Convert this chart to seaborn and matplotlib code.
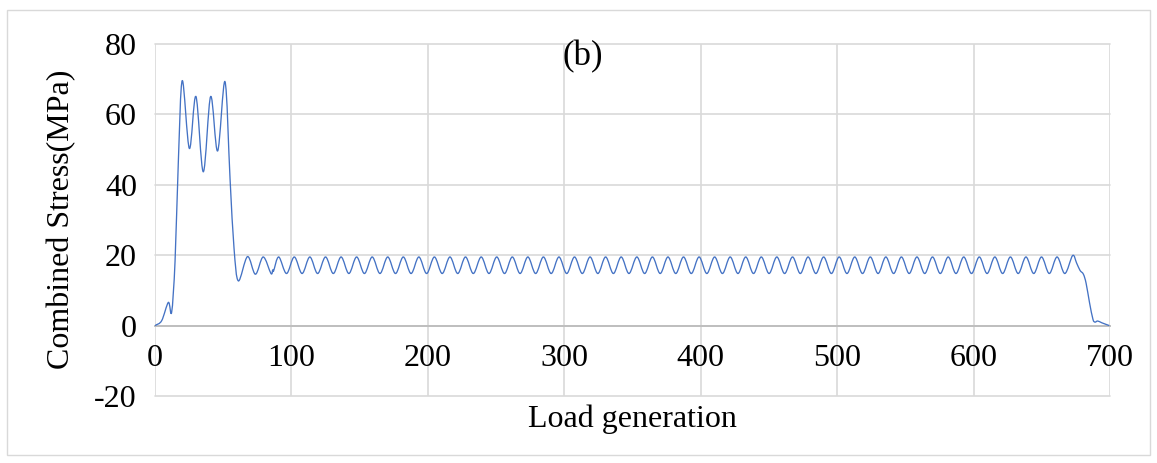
import numpy as np
import seaborn as sns
import matplotlib
matplotlib.use("Agg")
import matplotlib.pyplot as plt
from matplotlib.path import Path
from matplotlib.patches import PathPatch, Rectangle

# ---------------- data ----------------
# start-up transient (load generation, combined stress in MPa)
ramp_x = [0.0, 4.9, 9.8, 12.2, 14.7, 17.1, 20.0, 25.2, 30.0, 35.4, 40.8, 45.9, 51.3, 55.0, 57.9, 61.1]
ramp_y = [0.0, 1.4, 6.6, 3.8, 18.3, 46.5, 69.6, 50.3, 65.1, 43.7, 65.1, 49.6, 69.3, 41.8, 22.1, 12.7]

# steady oscillation: peaks
peak_x = [67.8, 79.3, 90.7, 102.1, 113.5, 125.0, 136.4, 147.8, 159.2, 170.6,
          182.0, 193.4, 204.8, 216.2, 227.6, 239.1, 250.5, 261.9, 273.3, 284.7,
          296.1, 307.5, 318.9, 330.3, 341.7, 353.2, 364.6, 376.0, 387.4, 398.8,
          410.2, 421.6, 433.0, 444.4, 455.8, 467.3, 478.7, 490.1, 501.5, 512.9,
          524.3, 535.7, 547.1, 558.5, 569.9, 581.4, 592.8, 604.2, 615.6, 627.0,
          638.4, 649.8, 661.2, 672.6]
peak_y = [19.6, 19.5, 19.5, 19.5, 19.5, 19.5, 19.5, 19.5, 19.5, 19.5,
          19.5, 19.5, 19.5, 19.5, 19.5, 19.5, 19.5, 19.5, 19.5, 19.5,
          19.5, 19.5, 19.5, 19.5, 19.5, 19.5, 19.5, 19.5, 19.5, 19.5,
          19.5, 19.5, 19.5, 19.5, 19.5, 19.5, 19.5, 19.5, 19.5, 19.5,
          19.5, 19.5, 19.5, 19.5, 19.5, 19.5, 19.5, 19.5, 19.5, 19.5,
          19.5, 19.5, 19.5, 19.9]
# steady oscillation: valleys
valley_x = [73.6, 85.0, 96.4, 107.8, 119.2, 130.7, 142.1, 153.5, 164.9, 176.3,
            187.7, 199.1, 210.5, 221.9, 233.3, 244.8, 256.2, 267.6, 279.0, 290.4,
            301.8, 313.2, 324.6, 336.0, 347.4, 358.9, 370.3, 381.7, 393.1, 404.5,
            415.9, 427.3, 438.7, 450.1, 461.5, 473.0, 484.4, 495.8, 507.2, 518.6,
            530.0, 541.4, 552.8, 564.2, 575.6, 587.1, 598.5, 609.9, 621.3, 632.7,
            644.1, 655.5, 666.9]
valley_y = [14.6, 14.8, 14.8, 14.8, 14.8, 14.8, 14.8, 14.8, 14.8, 14.8,
            14.8, 14.8, 14.8, 14.8, 14.8, 14.8, 14.8, 14.8, 14.8, 14.8,
            14.8, 14.8, 14.8, 14.8, 14.8, 14.8, 14.8, 14.8, 14.8, 14.8,
            14.8, 14.8, 14.8, 14.8, 14.8, 14.8, 14.8, 14.8, 14.8, 14.8,
            14.8, 14.8, 14.8, 14.8, 14.8, 14.8, 14.8, 14.8, 14.8, 14.8,
            14.8, 14.8, 14.8]
# small glitch right after the valley near 85
notch_x = [86.3, 86.9]
notch_y = [15.9, 15.5]

# shut-down tail
tail_x = [675.5, 678.0, 680.5, 682.5, 685.0, 687.5, 689.0, 691.0, 694.0, 699.5]
tail_y = [17.8, 15.7, 14.6, 12.0, 6.5, 1.8, 1.0, 1.3, 0.8, 0.0]

x_ticks = [0, 100, 200, 300, 400, 500, 600, 700]
y_ticks = [-20, 0, 20, 40, 60, 80]
y_tick_labels = ["-20", "0", "20", "40", "60", "80"]
panel_label = "(b)"
x_title = "Load generation"
y_title = "Combined Stress(MPa)"

# ---------------- assemble series in order ----------------
xs, ys = list(ramp_x), list(ramp_y)
for k in range(len(peak_x)):
    xs.append(peak_x[k]); ys.append(peak_y[k])
    if k < len(valley_x):
        xs.append(valley_x[k]); ys.append(valley_y[k])
        if k == 1:
            xs += notch_x; ys += notch_y
xs += tail_x; ys += tail_y

# ---------------- styling ----------------
sns.set_theme(style="white")
plt.rcParams['font.family'] = ['Liberation Serif', 'DejaVu Serif']

W, H = 1157, 463
fig = plt.figure(figsize=(W / 100, H / 100), dpi=100)
fig.patch.set_facecolor("white")
ax = fig.add_axes([155 / W, 1 - 396 / H, (1110 - 155) / W, (396 - 44) / H])

ax.set_xlim(0, 700)
ax.set_ylim(-20, 80)
ax.set_xticks(x_ticks)
ax.set_xticklabels([str(t) for t in x_ticks])
ax.set_yticks(y_ticks)
ax.set_yticklabels(y_tick_labels)

grid_c = "#d9d9d9"
ax.grid(True, color=grid_c, linewidth=1.2)
for gl in ax.get_xgridlines() + ax.get_ygridlines():
    gl.set_clip_on(False)
ax.set_axisbelow(True)

for s in ["top", "right", "left"]:
    ax.spines[s].set_visible(False)
ax.spines["bottom"].set_position(("data", 0))
ax.spines["bottom"].set_color("#bfbfbf")
ax.spines["bottom"].set_linewidth(1.4)
ax.spines["bottom"].set_zorder(1.5)

ax.tick_params(axis="both", length=0, labelsize=23, labelcolor="black")
ax.tick_params(axis="y", pad=13)
ax.tick_params(axis="x", pad=13)

# smoothed line (Excel-style Catmull-Rom smoothing of the data points)
P = np.column_stack([xs, ys]).astype(float)
T = np.zeros_like(P)
T[1:-1] = (P[2:] - P[:-2]) / 2.0
T[0] = P[1] - P[0]
T[-1] = P[-1] - P[-2]
verts = [P[0]]
codes = [Path.MOVETO]
for i in range(len(P) - 1):
    verts += [P[i] + T[i] / 3.0, P[i + 1] - T[i + 1] / 3.0, P[i + 1]]
    codes += [Path.CURVE4] * 3
line = PathPatch(Path(verts, codes), facecolor="none", edgecolor="#4472C4",
                 linewidth=0.95, transform=ax.transData, zorder=3)
ax.add_patch(line)

ax.text(313.7, 76.4, panel_label, ha="center", va="center", fontsize=25, color="black")
fig.text(632.5 / W, 1 - 419 / H, x_title, ha="center", va="center", fontsize=23, color="black")
fig.text(62 / W, 1 - 219 / H, y_title, ha="center", va="center", rotation=90, fontsize=23, color="black")

fig.patches.append(Rectangle((7 / W, 8 / H), (1150 - 7) / W, (455 - 10) / H,
                             transform=fig.transFigure, fill=False,
                             edgecolor="#d9d9d9", linewidth=1.0))

fig.savefig("out.png", dpi=100)
